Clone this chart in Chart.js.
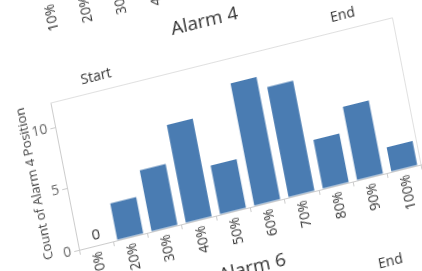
<!DOCTYPE html>
<html>
<head>
<meta charset="utf-8">
<script src="https://cdn.jsdelivr.net/npm/chart.js@4.4.1/dist/chart.umd.min.js"></script>
<style>
  html, body { margin: 0; padding: 0; background: #fff; overflow: hidden; width: 422px; height: 271px; }
  #wrap { position: absolute; left: 0; top: 0; width: 460px; height: 400px;
          transform-origin: 0 0;
          transform: matrix(0.970, -0.242, 0.191, 0.982, -30.77, -0.62); }
  canvas { display: block; }
</style>
</head>
<body>
<div id="wrap"><canvas id="c" width="460" height="400"></canvas></div>
<script>
// ---- data ----
const categories = ['10%', '20%', '30%', '40%', '50%', '60%', '70%', '80%', '90%', '100%'];
const alarm4Counts = [0, 3, 5, 8, 4, 10, 9, 4, 6, 2];
const yTicks = [0, 5, 10];
const chartTitle = 'Alarm 4';
const nextTitle = 'Alarm 6';
const yTitle = 'Count of Alarm 4 Position';
const startLabel = 'Start';
const endLabel = 'End';

const FONT = '"Open Sans", sans-serif';
Chart.defaults.font.family = FONT;

const PERIOD = 251; // vertical spacing between stacked panels

const extraText = {
  id: 'extraText',
  afterDraw(chart) {
    const { ctx, chartArea: a, scales: { x, y } } = chart;
    ctx.save();
    // light frame (top + right)
    ctx.strokeStyle = '#e0e0e0';
    ctx.lineWidth = 1;
    ctx.beginPath();
    ctx.moveTo(a.left, a.top + 0.5);
    ctx.lineTo(a.right - 0.5, a.top + 0.5);
    ctx.lineTo(a.right - 0.5, a.bottom);
    ctx.stroke();

    ctx.fillStyle = '#333';
    ctx.textAlign = 'center';
    ctx.textBaseline = 'middle';

    // titles
    ctx.font = '19px ' + FONT;
    ctx.fillText(chartTitle, a.left + 167, a.bottom - 191);
    ctx.fillText(nextTitle, a.left + 167, a.bottom - 191 + PERIOD);

    // start / end
    ctx.font = '14px ' + FONT;
    ctx.fillText(startLabel, x.getPixelForValue(1) - 3, a.bottom - 164);
    ctx.fillText(endLabel, x.getPixelForValue(8) + 4, a.bottom - 164);
    ctx.fillText(endLabel, x.getPixelForValue(8) + 4, a.bottom - 164 + PERIOD);

    // zero value labels
    ctx.font = '15px ' + FONT;
    alarm4Counts.forEach((v, i) => {
      if (v === 0) ctx.fillText(String(v), x.getPixelForValue(i) + 2, y.getPixelForValue(v) - 10);
    });

    // previous panel's category labels
    ctx.font = '14px ' + FONT;
    ctx.textAlign = 'right';
    categories.forEach((c, i) => {
      ctx.save();
      ctx.translate(x.getPixelForValue(i), a.bottom - PERIOD + 5);
      ctx.rotate(-Math.PI / 2);
      ctx.fillText(c, 0, 0);
      ctx.restore();
    });
    ctx.restore();
  }
};

new Chart(document.getElementById('c'), {
  type: 'bar',
  data: {
    labels: categories,
    datasets: [{
      data: alarm4Counts,
      backgroundColor: '#4a7cb2',
      borderWidth: 0,
      categoryPercentage: 1.0,
      barPercentage: 0.756
    }]
  },
  options: {
    responsive: false,
    animation: false,
    devicePixelRatio: 1,
    layout: { padding: { left: 17, right: 47, top: 120, bottom: 85 } },
    plugins: { legend: { display: false }, tooltip: { enabled: false }, title: { display: false } },
    scales: {
      x: {
        afterFit(s) { s.height = 45; },
        grid: { display: true, drawOnChartArea: false, offset: true, tickLength: 5, color: '#cccccc' },
        border: { color: '#cccccc' },
        ticks: { minRotation: 90, maxRotation: 90, autoSkip: false, padding: 1,
                 color: '#333', font: { size: 14, family: FONT } }
      },
      y: {
        min: 0, max: 12,
        afterFit(s) { s.width = 43; },
        afterBuildTicks(s) { s.ticks = yTicks.map(v => ({ value: v })); },
        grid: { display: true, drawOnChartArea: false, tickLength: 5, color: '#cccccc' },
        border: { color: '#cccccc' },
        ticks: { padding: 3, color: '#666', font: { size: 14, family: FONT } },
        title: { display: true, text: yTitle, color: '#444', padding: { top: 4, bottom: 4 },
                 font: { size: 13, family: FONT } }
      }
    }
  },
  plugins: [extraText]
});
</script>
</body>
</html>
